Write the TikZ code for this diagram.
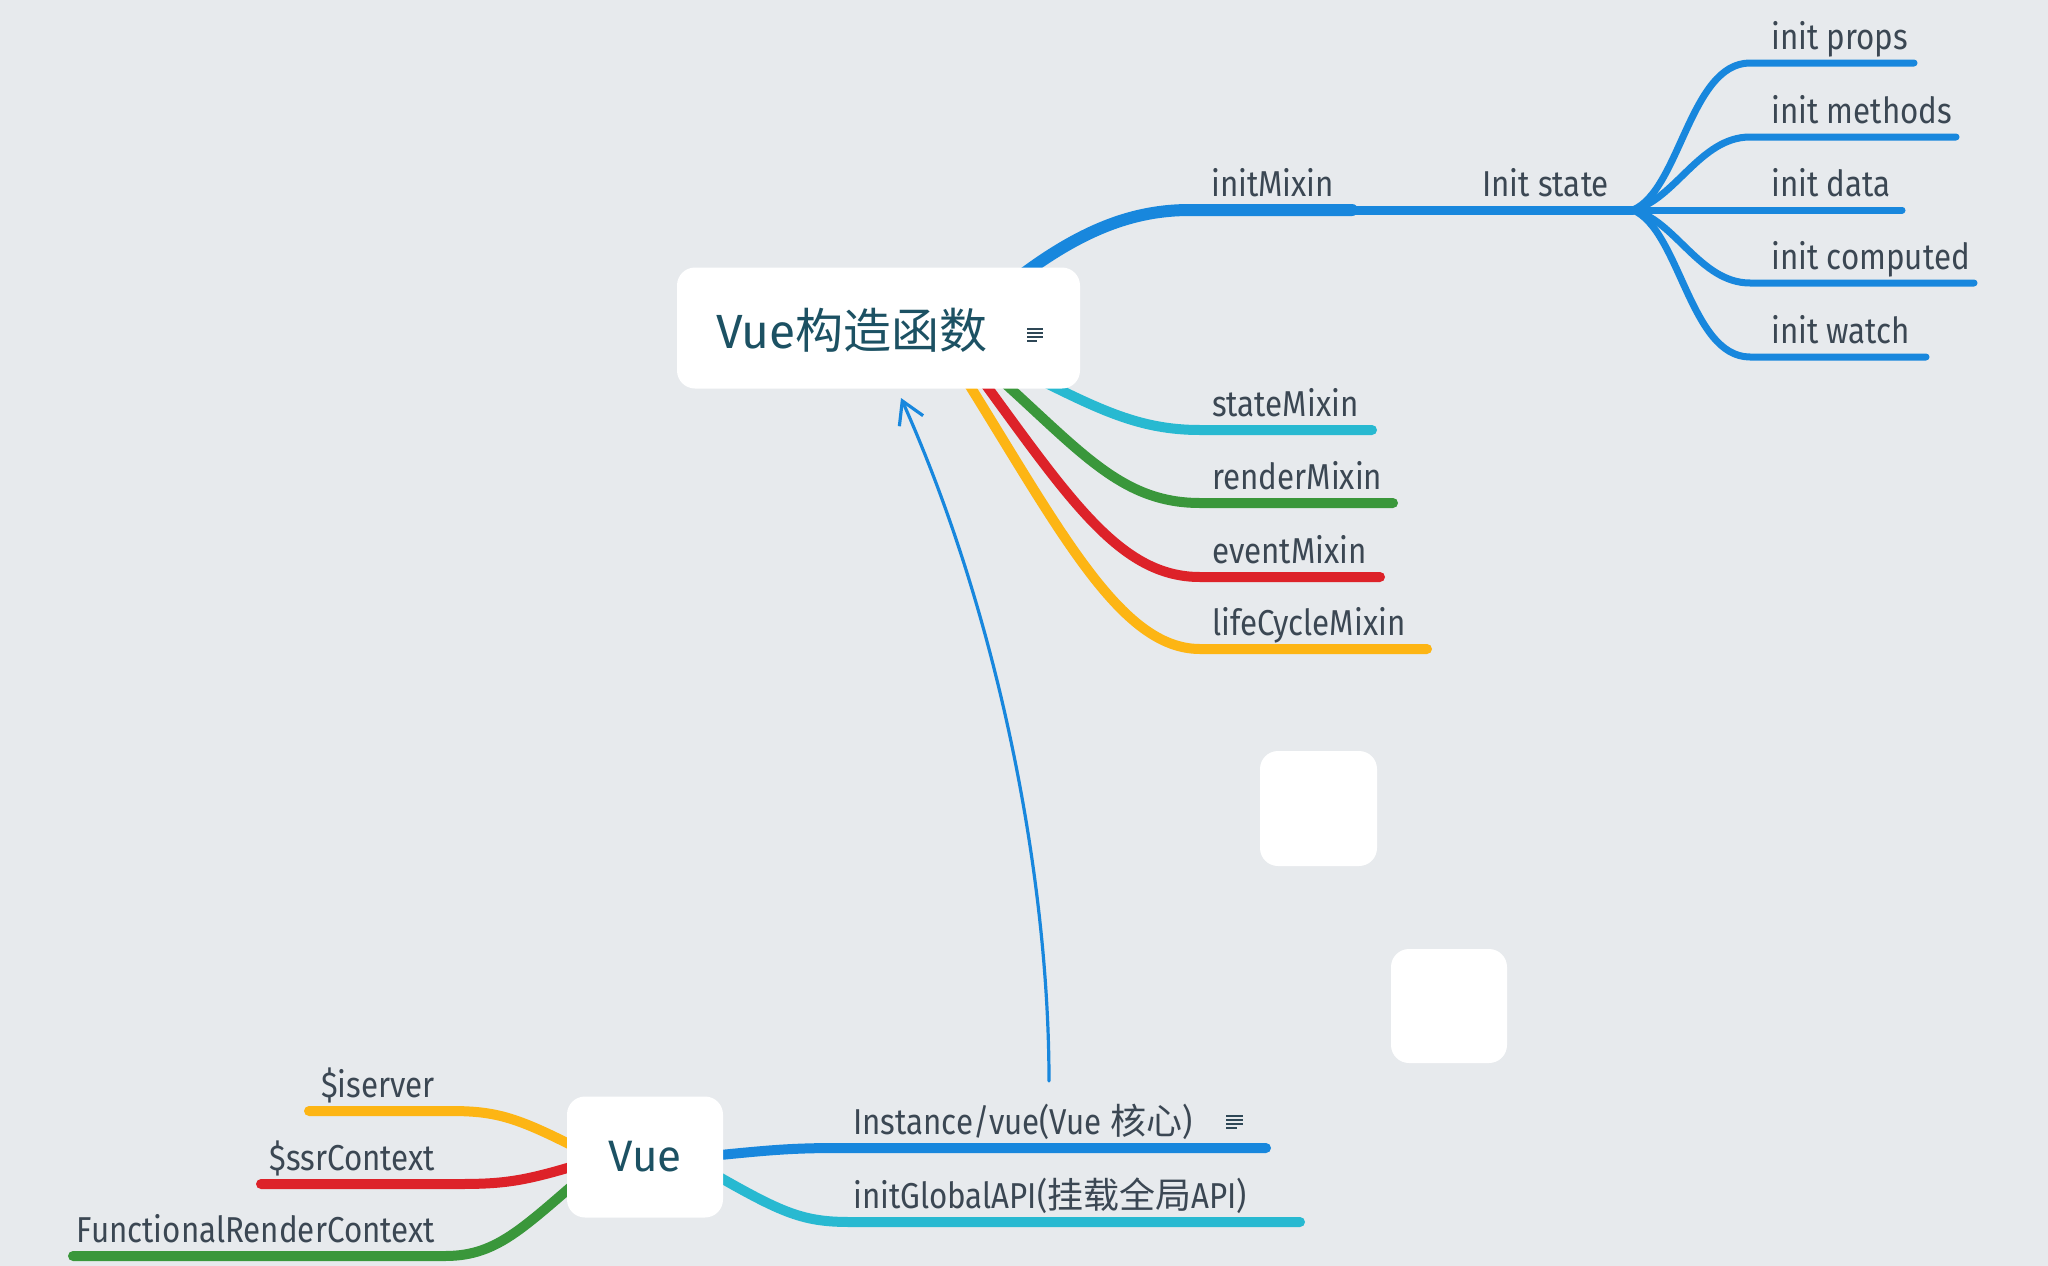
\documentclass[tikz,border=0pt]{standalone}
\usepackage{fontspec}
\setmainfont{Fira Sans}
\newfontfamily\lblfont[FakeStretch=0.87]{Fira Sans}
\newfontfamily\cjk{Noto Sans CJK SC}
\newfontfamily\titlecjk{Noto Sans CJK SC}
\usetikzlibrary{arrows.meta}
\definecolor{bgc}{HTML}{E7EAED}
\definecolor{bluec}{HTML}{1887DD}
\definecolor{cyanc}{HTML}{28B9D1}
\definecolor{greenc}{HTML}{3A973B}
\definecolor{redc}{HTML}{DD2229}
\definecolor{yellowc}{HTML}{FDB514}
\definecolor{labelc}{HTML}{3B4753}
\definecolor{titlec}{HTML}{1C5163}
\definecolor{iconc}{HTML}{2E4756}
\begin{document}
\begin{tikzpicture}[x=1pt,y=-1pt,
  lbl/.style={font=\lblfont\fontsize{36}{40}\selectfont, text=labelc, inner sep=0pt, anchor=base west},
  lblr/.style={lbl, anchor=base east},
  branch/.style={line cap=round, line width=10pt},
  subbranch/.style={line cap=round, line width=7pt, draw=bluec},
  box/.style={fill=white, rounded corners=18pt, draw=none, inner sep=0pt},
  iconline/.style={draw=iconc, line width=2pt}
]
\useasboundingbox (0,0) rectangle (2048,1266);
\fill[bgc] (0,0) rectangle (2048,1266);

% ---------- branch coordinates ----------
\coordinate (jn) at (1633,210);
% initMixin / Init state
\draw[branch, bluec, line width=12pt] (1005,288) .. controls (1080,228) and (1135,210) .. (1190,210) -- (1352,210) coordinate (imEnd);
\draw[branch, bluec, line width=9pt] (imEnd) -- (jn);
% init sub-branches
\draw[subbranch] (jn) .. controls (1680,190) and (1690,63) .. (1750,63) -- (1914,63);
\draw[subbranch] (jn) .. controls (1675,200) and (1700,137) .. (1750,137) -- (1956,137);
\draw[subbranch] (jn) -- (1902,210);
\draw[subbranch] (jn) .. controls (1675,220) and (1700,283) .. (1750,283) -- (1974,283);
\draw[subbranch] (jn) .. controls (1680,230) and (1690,357) .. (1750,357) -- (1926,357);
% mixins
\draw[branch, cyanc] (1030,375) .. controls (1100,410) and (1140,430) .. (1200,430) -- (1372,430);
\draw[branch, greenc] (990,370) .. controls (1080,450) and (1120,503) .. (1200,503) -- (1393,503);
\draw[branch, redc] (975,370) .. controls (1070,500) and (1120,577) .. (1200,577) -- (1380,577);
\draw[branch, yellowc] (960,370) .. controls (1060,530) and (1120,649) .. (1200,649) -- (1427,649);
% Vue right
\draw[branch, bluec] (700,1157) .. controls (770,1150) and (790,1148) .. (840,1148) -- (1266,1148);
\draw[branch, cyanc] (700,1166) .. controls (780,1212) and (800,1222) .. (850,1222) -- (1300,1222);
% Vue left
\draw[branch, yellowc] (600,1160) .. controls (520,1118) and (500,1111) .. (450,1111) -- (309,1111);
\draw[branch, redc] (600,1158) .. controls (530,1180) and (510,1184) .. (460,1184) -- (261,1184);
\draw[branch, greenc] (600,1162) .. controls (525,1225) and (500,1256) .. (445,1256) -- (73,1256);

% ---------- boxes ----------
\node[box, minimum width=403pt, minimum height=121pt] (mainbox) at (878.5,328) {};
\node[box, minimum width=156pt, minimum height=121pt, font=\fontsize{44}{48}\selectfont, text=titlec] (vue) at (645,1157) {Vue};
\node[box, minimum width=117pt, minimum height=115pt] (emptyA) at (1318.5,808.5) {};
\node[box, minimum width=116pt, minimum height=114pt] (emptyB) at (1449,1006) {};

% title
\node[inner sep=0pt, text=titlec, font=\fontsize{48}{52}\selectfont] (main) at (852,330) {Vue\titlecjk 构造函数};
% note icon in main box
\draw[iconline] (1027,329) -- (1043,329);
\draw[iconline] (1027,333) -- (1043,333);
\draw[iconline] (1027,337) -- (1043,337);
\draw[iconline] (1027,341) -- (1037,341);

% ---------- labels ----------
\node[lbl] (initMixin) at (1211,196) {initMixin};
\node[lbl] (initState) at (1482,196) {Init state};
\node[lbl] (props) at (1771,49) {init props};
\node[lbl] (methods) at (1771,123) {init methods};
\node[lbl] (data) at (1771,196) {init data};
\node[lbl] (computed) at (1771,269) {init computed};
\node[lbl] (watch) at (1771,343) {init watch};
\node[lbl] (stateMixin) at (1212,416) {stateMixin};
\node[lbl] (renderMixin) at (1212,489) {renderMixin};
\node[lbl] (eventMixin) at (1212,563) {eventMixin};
\node[lbl] (lifeCycleMixin) at (1212,635) {lifeCycleMixin};
\node[lbl] (instance) at (853,1134) {Instance/vue(Vue {\cjk 核心})};
\node[lbl] (globalapi) at (853,1208) {initGlobalAPI({\cjk 挂载全局}API)};
\node[lblr] (iserver) at (435,1097) {\$iserver};
\node[lblr] (ssr) at (435,1170) {\$ssrContext};
\node[lblr] (frc) at (435,1242) {FunctionalRenderContext};
% note icon after Instance
\draw[iconline, line width=1.6pt] (1226,1116) -- (1243,1116);
\draw[iconline, line width=1.6pt] (1226,1120) -- (1243,1120);
\draw[iconline, line width=1.6pt] (1226,1124) -- (1243,1124);
\draw[iconline, line width=1.6pt] (1226,1128) -- (1237,1128);

% ---------- arrow ----------
\coordinate (arrStart) at (1049,1081);
\coordinate (arrEnd) at (901,398);
\draw[bluec, line width=3.2pt, line cap=round, -{Straight Barb[length=22pt,width=26pt]}] (arrStart) .. controls (1049,880) and (1000,620) .. (arrEnd);
\end{tikzpicture}
\end{document}
